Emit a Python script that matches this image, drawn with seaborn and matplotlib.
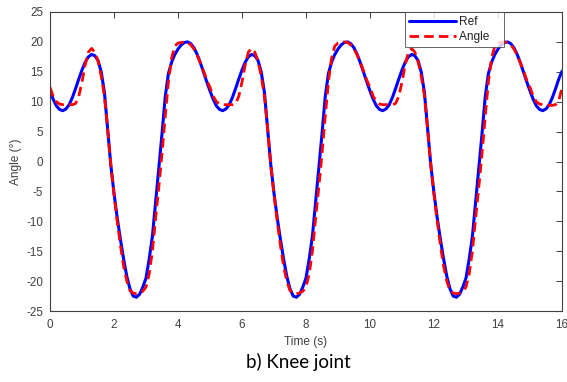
import numpy as np
import pandas as pd
import matplotlib
matplotlib.use("Agg")
import matplotlib.pyplot as plt
import seaborn as sns

# Time axis (s)
time_s = [round(0.1 * i, 1) for i in range(161)]

# Reference knee angle (deg)
ref_deg = [
    11.8, 10.4, 9.3, 8.7, 8.5, 8.8, 9.5, 10.7, 12.2, 13.8,
    15.3, 16.6, 17.5, 17.9, 17.7, 16.9, 15.0, 11.6, 5.6, -0.6,
    -5.3, -9.4, -13.0, -16.3, -19.2, -21.3, -22.5, -22.7, -22.2, -21.0,
    -19.5, -16.3, -12.5, -6.8, -1.2, 4.6, 10.8, 14.7, 16.6, 17.9,
    18.8, 19.5, 19.9, 20.0, 19.7, 19.0, 17.9, 16.5, 14.9, 13.3,
    11.8, 10.4, 9.3, 8.7, 8.5, 8.8, 9.5, 10.7, 12.2, 13.8,
    15.3, 16.6, 17.5, 17.9, 17.7, 16.9, 15.0, 11.6, 5.6, -0.6,
    -5.3, -9.4, -13.0, -16.3, -19.2, -21.3, -22.5, -22.7, -22.2, -21.0,
    -19.5, -16.3, -12.5, -6.8, -1.2, 4.6, 10.8, 14.7, 16.6, 17.9,
    18.8, 19.5, 19.9, 20.0, 19.7, 19.0, 17.9, 16.5, 14.9, 13.3,
    11.8, 10.4, 9.3, 8.7, 8.5, 8.8, 9.5, 10.7, 12.2, 13.8,
    15.3, 16.6, 17.5, 17.9, 17.7, 16.9, 15.0, 11.6, 5.6, -0.6,
    -5.3, -9.4, -13.0, -16.3, -19.2, -21.3, -22.5, -22.7, -22.2, -21.0,
    -19.5, -16.3, -12.5, -6.8, -1.2, 4.6, 10.8, 14.7, 16.6, 17.9,
    18.8, 19.5, 19.9, 20.0, 19.7, 19.0, 17.9, 16.5, 14.9, 13.3,
    11.8, 10.4, 9.3, 8.7, 8.5, 8.8, 9.5, 10.7, 12.2, 13.8,
    15.1,
]

angle_deg = [
    12.4, 10.9, 10.0, 9.6, 9.5, 9.5, 9.5, 9.5, 9.7, 10.9,
    13.3, 16.2, 18.3, 18.9, 18.3, 16.8, 14.3, 11.0, 5.5, -0.5,
    -5.5, -10.0, -14.0, -17.5, -20.0, -21.6, -22.0, -22.1, -22.0, -21.7,
    -21.0, -18.8, -15.0, -9.5, -4.3, 1.3, 7.5, 13.3, 17.3, 19.3,
    19.8, 19.9, 20.0, 19.9, 19.5, 18.8, 17.8, 16.5, 15.1, 13.6,
    12.4, 10.9, 10.0, 9.6, 9.5, 9.5, 9.5, 9.5, 9.7, 10.9,
    13.3, 16.2, 18.3, 18.9, 18.3, 16.8, 14.3, 11.0, 5.5, -0.5,
    -5.5, -10.0, -14.0, -17.5, -20.0, -21.6, -22.0, -22.1, -22.0, -21.7,
    -21.0, -18.8, -15.0, -9.5, -4.3, 1.3, 7.5, 13.3, 17.3, 19.3,
    19.8, 19.9, 20.0, 19.9, 19.5, 18.8, 17.8, 16.5, 15.1, 13.6,
    12.4, 10.9, 10.0, 9.6, 9.5, 9.5, 9.5, 9.5, 9.7, 10.9,
    13.3, 16.2, 18.3, 18.9, 18.3, 16.8, 14.3, 11.0, 5.5, -0.5,
    -5.5, -10.0, -14.0, -17.5, -20.0, -21.6, -22.0, -22.1, -22.0, -21.7,
    -21.0, -18.8, -15.0, -9.5, -4.3, 1.3, 7.5, 13.3, 17.3, 19.3,
    19.8, 19.9, 20.0, 19.9, 19.5, 18.8, 17.8, 16.5, 15.1, 13.6,
    12.4, 10.9, 10.0, 9.6, 9.5, 9.5, 9.4, 9.4, 9.5, 10.2,
    12.3,
]

series_labels = ["Ref", "Angle"]
x_ticks = [0, 2, 4, 6, 8, 10, 12, 14, 16]
y_ticks = [-25, -20, -15, -10, -5, 0, 5, 10, 15, 20, 25]

df = pd.DataFrame({"t": time_s, "ref": ref_deg, "ang": angle_deg})

sns.set_theme(style="white")
plt.rcParams["font.family"] = ["Liberation Sans", "DejaVu Sans"]

W, H = 567, 382
fig = plt.figure(figsize=(W / 100, H / 100), dpi=100)
ax = fig.add_axes([50 / W, 1 - 311 / H, (562 - 50) / W, (311 - 12) / H])

sns.lineplot(data=df, x="t", y="ref", ax=ax, color="#0000FF", linewidth=2.2,
             label=series_labels[0])
sns.lineplot(data=df, x="t", y="ang", ax=ax, color="#FF0000", linewidth=2.0,
             linestyle=(0, (3.4, 1.9)), label=series_labels[1])

axcol = "#404040"
ax.set_xlim(0, 16)
ax.set_ylim(-25, 25)
ax.set_xticks(x_ticks)
ax.set_yticks(y_ticks)
ax.set_xticklabels([str(v) for v in x_ticks])
ax.set_yticklabels([str(v) for v in y_ticks])
ax.tick_params(direction="in", length=4, width=0.7, colors=axcol,
               labelsize=8.4, top=True, right=True, pad=5)
ax.tick_params(axis="x", pad=6)
for s in ax.spines.values():
    s.set_color(axcol)
    s.set_linewidth(0.8)
ax.set_xlabel("Time (s)", fontsize=8.6, color=axcol, labelpad=3)
ax.set_ylabel("Angle (°)", fontsize=8.6, color=axcol, labelpad=3)

leg = ax.legend(loc="upper left", bbox_to_anchor=(405 / W, 1 - 12 / H),
                bbox_transform=fig.transFigure, borderaxespad=0,
                fontsize=8.6, frameon=True, fancybox=False,
                handlelength=3.9, handletextpad=0.3, borderpad=0.35,
                labelspacing=0.25)
leg.get_frame().set_edgecolor(axcol)
leg.get_frame().set_linewidth(0.7)
for txt in leg.get_texts():
    txt.set_color("#222222")
    # a little trailing room so the box matches the reference's width
    txt.set_text(txt.get_text() + "   ")

fig.text(298 / W, 1 - 362 / H, "b) Knee joint", ha="center", va="center",
         fontsize=13.5, color="black", family=["Lato", "DejaVu Sans"])

fig.savefig("out.png", dpi=100)
